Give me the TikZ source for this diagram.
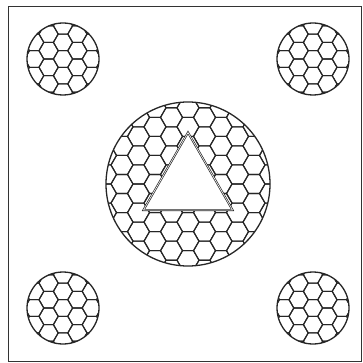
\documentclass[tikz,border=0pt]{standalone}
\usepackage{tikz}

\tikzset{
  cell/.style={line width=1.1pt, black!85},
  disc/.style={line width=1.3pt, black!85},
}

% #1,#2 centre, #3 disc radius, #4 cell radius
\newcommand{\honeycomb}[4]{%
  \begin{scope}
    \clip (#1,#2) circle (#3);
    \foreach \i in {-6,...,6}
      \foreach \j in {-6,...,6}
        \draw[cell] ({#1+1.5*#4*\i},{#2+sqrt(3)*#4*(\j+0.5*mod(\i,2))}) ++(0:#4)
          -- ++(120:#4) -- ++(180:#4) -- ++(240:#4) -- ++(300:#4) -- ++(0:#4) -- cycle;
  \end{scope}
  \draw[disc] (#1,#2) circle (#3);
}

\begin{document}
\begin{tikzpicture}[x=1pt, y=-1pt]
  \useasboundingbox (0,0) rectangle (363,363);
  \draw[line width=1pt, black!80] (8,7) rectangle (361,361);

  \honeycomb{63}{59}{36}{9.6}
  \honeycomb{313}{59}{36}{9.6}
  \honeycomb{63}{308}{36}{9.6}
  \honeycomb{313}{308}{36}{9.6}

  \honeycomb{188}{184}{82}{11}
  \fill[white] (188,132.5) -- (143.5,210) -- (232.5,210) -- cycle;
  \draw[disc, double, double distance=0.6pt, line width=0.7pt]
    (188,132.5) -- (143.5,210) -- (232.5,210) -- cycle;
\end{tikzpicture}
\end{document}
